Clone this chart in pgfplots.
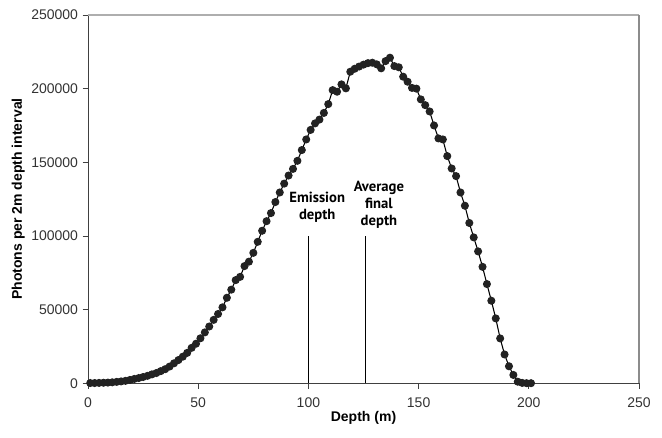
\documentclass[border=0pt]{standalone}
\usepackage{fontspec}
\setmainfont{Liberation Sans}
\newfontfamily\notefont{PT Sans}
\usepackage{pgfplots}
\pgfplotsset{compat=1.18}
\definecolor{dots}{HTML}{222222}
\definecolor{frame}{HTML}{8C8C8C}

% photons per 2 m interval, bin centres
\begin{document}
\begin{tikzpicture}
\begin{axis}[
  name=ax,
  scale only axis,
  width=413pt, height=276pt,
  xmin=0, xmax=250, ymin=0, ymax=250000,
  xtick={0,50,...,250}, ytick={0,50000,...,250000},
  scaled ticks=false,
  xticklabels={0,50,100,150,200,250},
  yticklabels={0,50000,100000,150000,200000,250000},
  tick label style={font=\fontsize{10.5}{12}\selectfont, text=black!80},
  xticklabel style={yshift=-3pt},
  axis x line*=bottom, axis y line*=left,
  axis line style={black!75, line width=0.8pt, -},
  tick style={black!75, line width=0.6pt},
  tick align=outside, major tick length=4pt,
  xlabel={\bfseries Depth (m)},
  ylabel={\bfseries Photons per 2m depth interval},
  label style={font=\fontsize{10.5}{12}\selectfont},
  xlabel style={yshift=4pt},
  ylabel style={yshift=-2pt},
  clip=false,
]
\addplot[black, line width=0.8pt, mark=*, mark size=2.6pt,
  mark options={fill=dots, draw=dots}] coordinates {
(1,100) (3,100) (5,200) (7,300) (9,400) (11,600) (13,900) (15,1200)
(17,1600) (19,2200) (21,2900) (23,3500) (25,4200) (27,5000) (29,6000)
(31,6900) (33,8200) (35,9500) (37,11300) (39,13500) (41,15700) (43,18000)
(45,20600) (47,24000) (49,26800) (51,30500) (53,34500) (55,38500)
(57,43000) (59,47000) (61,51500) (63,58000) (65,63500) (67,70000)
(69,72200) (71,79500) (73,82500) (75,88500) (77,96000) (79,103500)
(81,110000) (83,115500) (85,123000) (87,129500) (89,135500) (91,141000)
(93,145500) (95,151000) (97,158300) (99,165500) (101,172000) (103,176400)
(105,179000) (107,183500) (109,189500) (111,199000) (113,197900)
(115,202900) (117,200200) (119,211500) (121,213500) (123,215000)
(125,216300) (127,217300) (129,217600) (131,216500) (133,213800)
(135,218700) (137,221000) (139,215300) (141,214500) (143,208100)
(145,204700) (147,200500) (149,200000) (151,192700) (153,188800)
(155,184500) (157,175000) (159,166200) (161,165500) (163,154200)
(165,145800) (167,140600) (169,129500) (171,120500) (173,108800)
(175,99000) (177,89500) (179,79000) (181,67300) (183,56000) (185,44000)
(187,30400) (189,19500) (191,11500) (193,5600) (195,1000) (197,200)
(199,0) (201,0)
};
\addplot[black, line width=0.6pt] coordinates {(100,0) (100,100000)};
\addplot[black, line width=0.6pt] coordinates {(126,0) (126,100000)};
\node[font=\notefont\bfseries\fontsize{11}{12.5}\selectfont, align=center,
  anchor=south] at (axis cs:104,106000) {Emission\\depth};
\node[font=\notefont\bfseries\fontsize{11}{12.5}\selectfont, align=center,
  anchor=south] at (axis cs:132,102000) {Average\\final\\depth};
\draw[frame!70, line width=0.9pt] (rel axis cs:0,1) -- (rel axis cs:1,1);
\draw[frame, line width=0.9pt] (rel axis cs:1,1) -- (rel axis cs:1,0);
\end{axis}
\pgfresetboundingbox
\path (ax.south west) ++(-66pt,-40.5pt) coordinate (a);
\path (ax.north east) ++(17.25pt,11.25pt) coordinate (b);
\path (a) rectangle (b);
\end{tikzpicture}
\end{document}
